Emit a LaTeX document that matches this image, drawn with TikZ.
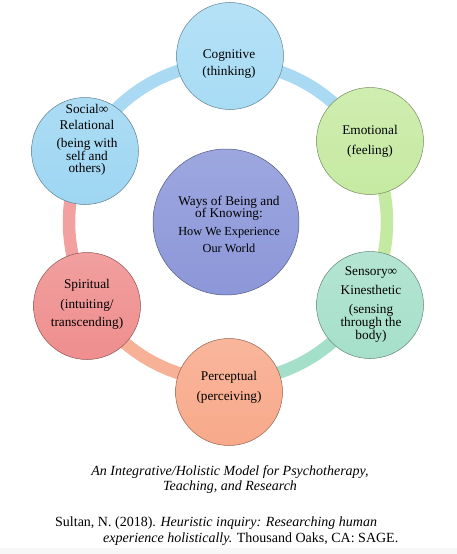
\documentclass[tikz,border=0pt]{standalone}
\usepackage{fontspec}
\setmainfont{Liberation Serif}
\definecolor{cogc}{HTML}{A8DCF5}
\definecolor{socc}{HTML}{9ED6F2}
\definecolor{emoc}{HTML}{C6EAA2}
\definecolor{senc}{HTML}{A6E0CA}
\definecolor{perc}{HTML}{F8A98A}
\definecolor{spic}{HTML}{EF8E8E}
\definecolor{cenc}{HTML}{8C97D9}
\definecolor{arcb}{HTML}{A9D9F3}
\definecolor{arcg}{HTML}{C4E9A0}
\definecolor{arct}{HTML}{A3DFC9}
\definecolor{arco}{HTML}{F7B196}
\definecolor{arcp}{HTML}{F3A0A0}
\newcommand\tightfont{\fontsize{13.3}{11}\selectfont\setlength\lineskiplimit{-50pt}}
\newcommand\smallerfont{\fontsize{12.3}{11}\selectfont}
\begin{document}
\begin{tikzpicture}[x=1pt,y=-1pt,
  bubble/.style={circle, draw=#1!60!black, line width=0.5pt,
    top color=#1!85!white, bottom color=#1, minimum size=107pt, inner sep=0pt},
  seg/.style={line width=12.5pt},
  lbl/.style={align=center, inner sep=0pt, font={\tightfont}},
  captxt/.style={inner sep=0pt, font={\fontsize{14}{16}\selectfont\itshape}},
  reftxt/.style={inner sep=0pt, font={\fontsize{14}{16}\selectfont}}]
\useasboundingbox (0,0) rectangle (457,554);
\fill[white] (0,0) rectangle (457,554);
\fill[gray!6] (0,548) rectangle (457,554);
% ring
\coordinate (rc) at (228,222);
\draw[seg, arcb] (rc) ++(90:159pt) arc[start angle=90, end angle=30, radius=159pt];
\draw[seg, arcg] (rc) ++(30:159pt) arc[start angle=30, end angle=-30, radius=159pt];
\draw[seg, arct] (rc) ++(-30:159pt) arc[start angle=-30, end angle=-90, radius=159pt];
\draw[seg, arco] (rc) ++(-90:159pt) arc[start angle=-90, end angle=-150, radius=159pt];
\draw[seg, arcp] (rc) ++(210:159pt) arc[start angle=210, end angle=153, radius=159pt];
\draw[seg, arcb] (rc) ++(153:159pt) arc[start angle=153, end angle=90, radius=159pt];
% circles
\node[bubble=cogc] (cog) at (230,56) {};
\node[bubble=emoc] (emo) at (370,141) {};
\node[bubble=senc] (sen) at (370,305) {};
\node[bubble=perc] (per) at (229,392) {};
\node[bubble=spic] (spi) at (87,306) {};
\node[bubble=socc] (soc) at (85,151) {};
\node[bubble=cenc, minimum size=146pt] (cen) at (226,222) {};
% labels
\node[lbl] (cogt) at (229,64) {Cognitive\\[6pt](thinking)};
\node[lbl] (emot) at (370,141) {Emotional\\[9pt](feeling)};
\node[lbl] (sent) at (371,305) {Sensory∞\\[8pt]Kinesthetic\\[8pt](sensing\\[2pt]through the\\[2pt]body)};
\node[lbl] (pert) at (229,387) {Perceptual\\[9pt](perceiving)};
\node[lbl] (spit) at (87,304) {Spiritual\\[9pt](intuiting/\\[7pt]transcending)};
\node[lbl] (soct) at (87,140) {Social∞\\[5pt]Relational\\[7pt](being with\\[1.5pt]self and\\[1pt]others)};
\node[lbl] (cent) at (229,224) {Ways of Being and\\[1pt]of Knowing:\\[7pt]{\smallerfont How We Experience}\\[6pt]{\smallerfont Our World}};
% caption
\node[captxt, anchor=base] (cap1) at (230,475) {An Integrative/Holistic Model for Psychotherapy,};
\node[captxt, anchor=base] (cap2) at (230,490.5) {Teaching, and Research};
\node[reftxt, anchor=base west] (ref1) at (55,526) {Sultan, N. (2018). \textit{Heuristic inquiry: Researching human}};
\node[reftxt, anchor=base west] (ref2) at (103,542.5) {\textit{experience holistically.} Thousand Oaks, CA: SAGE.};
\end{tikzpicture}
\end{document}
